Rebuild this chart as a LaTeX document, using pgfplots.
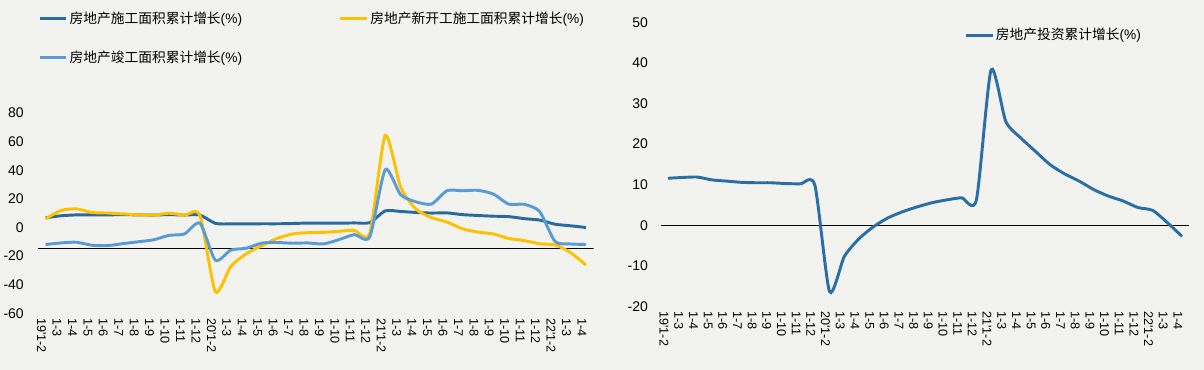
\documentclass[border=0pt]{standalone}
\usepackage{fontspec}
\setmainfont{Liberation Sans}
\newfontfamily\cjk{Noto Sans CJK SC}
\usepackage{pgfplots}
\pgfplotsset{compat=1.18}
\definecolor{bg}{HTML}{F2F3EF}
\definecolor{dblue}{HTML}{2A6A9E}
\definecolor{gold}{HTML}{FFC000}
\definecolor{lblue}{HTML}{5B9BD5}
\definecolor{rblue}{HTML}{2B6EA6}
\pgfplotsset{
  cats/.style={xtick={0,...,35},xticklabels={19\textquotesingle1-2,1-3,1-4,1-5,1-6,1-7,1-8,1-9,1-10,1-11,1-12,20\textquotesingle1-2,1-3,1-4,1-5,1-6,1-7,1-8,1-9,1-10,1-11,1-12,21\textquotesingle1-2,1-3,1-4,1-5,1-6,1-7,1-8,1-9,1-10,1-11,1-12,22\textquotesingle1-2,1-3,1-4}},
  common/.style={
    scale only axis, xmin=-0.5, xmax=35.5,
    axis line style={draw=none}, major tick length=0pt,
    /pgf/number format/assume math mode=true,
    xticklabel style={rotate=-90, anchor=west, font=\fontsize{9.5}{10}\selectfont, yshift=-3pt},
    yticklabel style={font=\fontsize{10.5}{12}\selectfont},
    legend image code/.code={\draw[#1] (0pt,0pt) -- (20pt,0pt);},
    every axis plot/.append style={tension=0.4},
    cats,
  }
}
\begin{document}
\begin{tikzpicture}
\useasboundingbox (0,0) rectangle (903pt,277.5pt);
\fill[bg] (0,0) rectangle (903pt,277.5pt);
\begin{axis}[common,
  at={(28.35pt,42.5pt)}, anchor=south west,
  width=416.9pt, height=150.2pt,
  ymin=-60, ymax=80, ytick={-60,-40,...,80},
  yticklabel style={xshift=-7pt},
  legend columns=2,
  legend style={at={(axis description cs:0,1.518)}, anchor=north west, draw=none, fill=none, inner sep=0pt,
    row sep=16pt, font=\fontsize{10.3}{12}\selectfont, nodes={inner sep=1.5pt},
    /tikz/every even column/.append style={column sep=71pt}},
  legend cell align=left,
]
\addplot[black, line width=0.75pt, forget plot] coordinates {(-0.5,-14.5) (35.5,-14.5)};
\addplot[dblue, line width=2.2pt, smooth] coordinates {(0,6.8)(1,8.2)(2,8.8)(3,8.8)(4,8.8)(5,9.0)(6,8.8)(7,8.7)(8,9.0)(9,8.7)(10,8.7)(11,2.9)(12,2.5)(13,2.5)(14,2.6)(15,2.6)(16,2.8)(17,3.1)(18,3.1)(19,3.0)(20,3.2)(21,3.4)(22,11.6)(23,11.2)(24,10.5)(25,10.1)(26,10.2)(27,9.0)(28,8.4)(29,7.9)(30,7.6)(31,6.2)(32,5.2)(33,2.3)(34,1.2)(35,0.0)};
\addlegendentry{{\cjk 房地产施工面积累计增长}(\%)}
\addplot[gold, line width=2.2pt, smooth] coordinates {(0,6.0)(1,11.9)(2,13.1)(3,10.5)(4,10.1)(5,9.5)(6,8.9)(7,8.6)(8,10.0)(9,8.6)(10,8.5)(11,-44.9)(12,-27.2)(13,-18.4)(14,-12.8)(15,-7.6)(16,-4.5)(17,-3.6)(18,-3.4)(19,-2.7)(20,-2.0)(21,-4.0)(22,64.3)(23,28.2)(24,12.8)(25,6.9)(26,3.8)(27,-0.9)(28,-3.2)(29,-4.5)(30,-7.7)(31,-9.1)(32,-11.4)(33,-12.2)(34,-17.5)(35,-26.3)};
\addlegendentry{{\cjk 房地产新开工施工面积累计增长}(\%)}
\addplot[lblue, line width=2.2pt, smooth] coordinates {(0,-11.9)(1,-10.8)(2,-10.3)(3,-12.4)(4,-12.7)(5,-11.3)(6,-10.0)(7,-8.6)(8,-5.5)(9,-4.5)(10,3.0)(11,-22.9)(12,-15.8)(13,-14.5)(14,-10.9)(15,-10.5)(16,-11.0)(17,-10.8)(18,-11.5)(19,-8.5)(20,-5.0)(21,-6.5)(22,40.4)(23,22.9)(24,17.9)(25,16.4)(26,25.7)(27,25.7)(28,26.0)(29,23.4)(30,16.3)(31,16.2)(32,11.2)(33,-9.8)(34,-11.5)(35,-11.9)};
\addlegendentry{{\cjk 房地产竣工面积累计增长}(\%)}
\end{axis}
\begin{axis}[common,
  at={(495.5pt,47.5pt)}, anchor=south west,
  width=396.5pt, height=213.3pt,
  ymin=-20, ymax=50, ytick={-20,-10,...,50},
  yticklabel style={xshift=-6pt},
  legend style={at={(axis description cs:0.574,0.955)}, anchor=west, draw=none, fill=none, inner sep=0pt,
    font=\fontsize{10.3}{12}\selectfont, nodes={inner sep=1.5pt}},
  legend cell align=left,
]
\addplot[black, line width=0.75pt, forget plot] coordinates {(-0.5,0) (35.5,0)};
\addplot[rblue, line width=2.2pt, smooth] coordinates {(0,11.6)(1,11.8)(2,11.9)(3,11.2)(4,10.9)(5,10.6)(6,10.5)(7,10.5)(8,10.3)(9,10.2)(10,9.9)(11,-16.3)(12,-7.7)(13,-3.3)(14,-0.3)(15,1.9)(16,3.4)(17,4.6)(18,5.6)(19,6.3)(20,6.8)(21,6.3)(22,38.3)(23,25.6)(24,21.6)(25,18.3)(26,15.0)(27,12.7)(28,10.9)(29,8.8)(30,7.2)(31,6.0)(32,4.4)(33,3.7)(34,0.7)(35,-2.7)};
\addlegendentry{{\cjk 房地产投资累计增长}(\%)}
\end{axis}
\end{tikzpicture}
\end{document}
